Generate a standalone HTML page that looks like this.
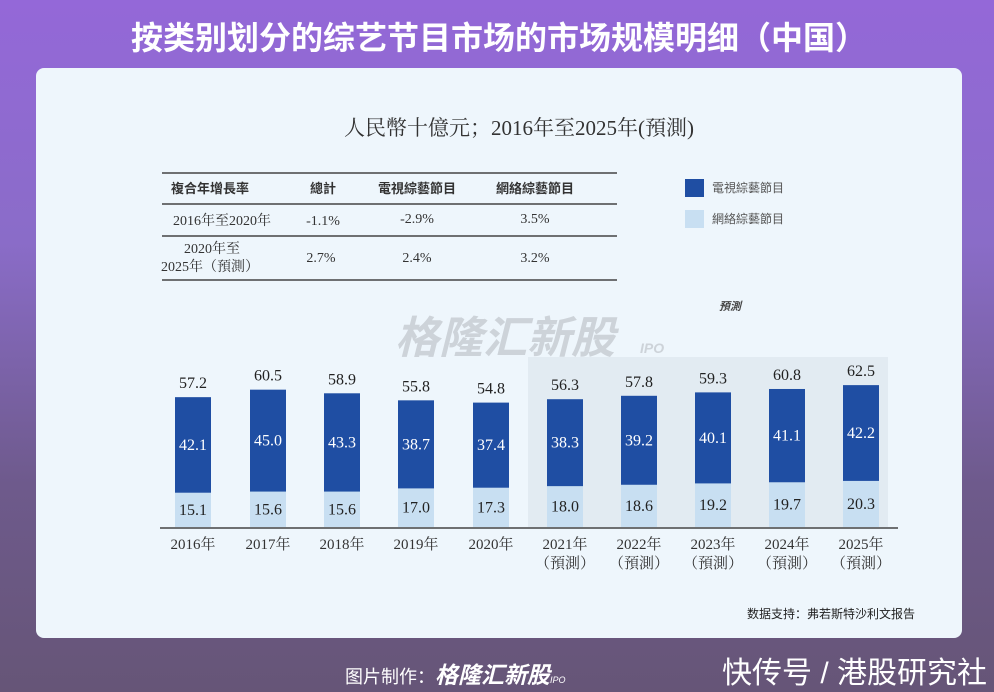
<!DOCTYPE html>
<html><head><meta charset="utf-8"><style>
body{margin:0;width:994px;height:692px;overflow:hidden;font-family:"Liberation Sans","Noto Sans CJK SC",sans-serif;}
.bg{position:absolute;left:0;top:0;width:994px;height:692px;background:linear-gradient(180deg,#9468d8 0%,#8a6cc8 35%,#6e5a8c 70%,#665577 100%);}
</style></head><body>
<div class="bg"></div>
<svg width="994" height="692" style="position:absolute;left:0;top:0" font-family="Liberation Serif, Noto Serif CJK SC, serif">
<text x="499" y="49" text-anchor="middle" font-family="Liberation Sans, Noto Sans CJK SC, sans-serif" font-weight="bold" font-size="32" fill="#fff">按类别划分的综艺节目市场的市场规模明细（中国）</text>
<rect x="36" y="68" width="926" height="570" rx="8" fill="#eef6fc"/>
<text x="519" y="135" text-anchor="middle" font-size="21" fill="#333">人民幣十億元；2016年至2025年(預測)</text>
<g stroke="#444" stroke-width="1.5"><line x1="162" y1="173" x2="617" y2="173"/><line x1="162" y1="204" x2="617" y2="204"/><line x1="162" y1="236" x2="617" y2="236"/><line x1="162" y1="280" x2="617" y2="280"/></g>
<g font-size="13" fill="#333" text-anchor="middle" font-family="Liberation Sans, Noto Sans CJK SC, sans-serif" font-weight="bold">
<text x="210" y="193">複合年增長率</text><text x="323" y="193">總計</text><text x="417" y="193">電視綜藝節目</text><text x="535" y="193">網絡綜藝節目</text></g>
<g font-size="14" fill="#333" text-anchor="middle">
<text x="222" y="225">2016年至2020年</text><text x="323" y="225">-1.1%</text><text x="417" y="223">-2.9%</text><text x="535" y="223">3.5%</text>
<text x="212" y="253">2020年至</text><text x="210" y="271">2025年（預測）</text><text x="321" y="262">2.7%</text><text x="417" y="262">2.4%</text><text x="535" y="262">3.2%</text></g>
<rect x="685" y="179" width="19" height="18" fill="#1f4ea3"/><rect x="685" y="210" width="19" height="18" fill="#c8dff2"/>
<g font-size="12" fill="#555" font-family="Liberation Sans, Noto Sans CJK SC, sans-serif"><text x="712" y="192">電視綜藝節目</text><text x="712" y="223">網絡綜藝節目</text></g>
<text x="730" y="310" text-anchor="middle" font-size="11" font-style="italic" font-weight="bold" fill="#444" font-family="Liberation Sans, Noto Sans CJK SC, sans-serif">預測</text>
<text x="505" y="353" text-anchor="middle" font-size="44" font-style="italic" font-weight="bold" fill="#cdd3d9" font-family="Liberation Sans, Noto Sans CJK SC, sans-serif">格隆汇新股</text>
<text x="640" y="353" font-size="14" font-style="italic" font-weight="bold" fill="#cdd3d9" font-family="Liberation Sans, sans-serif">IPO</text>
<rect x="528" y="357" width="360" height="170" fill="#e2ebf2"/>
<line x1="160" y1="528" x2="898" y2="528" stroke="#444" stroke-width="1.5"/>
<g id="bars" font-size="16" text-anchor="middle"></g>
</svg>
<div style="position:absolute;left:747px;top:605px;font-size:12px;color:#222;font-family:'Liberation Sans','Noto Sans CJK SC',sans-serif">数据支持：弗若斯特沙利文报告</div>
<div style="position:absolute;left:345px;top:656px;font-size:18px;color:#fff;font-family:'Liberation Sans','Noto Sans CJK SC',sans-serif">图片制作：<b style="font-style:italic;font-size:23px">格隆汇新股</b><span style="font-size:9px;font-style:italic">IPO</span></div>
<div style="position:absolute;left:722px;top:648px;font-size:30px;color:#fff;font-family:'Liberation Sans','Noto Sans CJK SC',sans-serif">快传号 / 港股研究社</div>
<script>
var d=[[2016,42.1,15.1,57.2],[2017,45.0,15.6,60.5],[2018,43.3,15.6,58.9],[2019,38.7,17.0,55.8],[2020,37.4,17.3,54.8],[2021,38.3,18.0,56.3],[2022,39.2,18.6,57.8],[2023,40.1,19.2,59.3],[2024,41.1,19.7,60.8],[2025,42.2,20.3,62.5]];
var cx=[193,268,342,416,491,565,639,713,787,861],s=2.27,h='';
d.forEach(function(r,i){var x=cx[i]-18,yl=527-r[2]*s,yt=527-r[3]*s;
h+='<rect x="'+x+'" y="'+yl+'" width="36" height="'+(527-yl)+'" fill="#c8dff2"/>';
h+='<rect x="'+x+'" y="'+yt+'" width="36" height="'+(yl-yt)+'" fill="#1f4ea3"/>';
h+='<text x="'+cx[i]+'" y="'+(yt-9)+'" fill="#222">'+r[3].toFixed(1)+'</text>';
h+='<text x="'+cx[i]+'" y="'+((yl+yt)/2+5)+'" fill="#fff">'+r[1].toFixed(1)+'</text>';
h+='<text x="'+cx[i]+'" y="'+((yl+527)/2+5)+'" fill="#222">'+r[2].toFixed(1)+'</text>';
h+='<text x="'+cx[i]+'" y="549" fill="#333" font-size="15">'+r[0]+'年</text>';
if(i>=5)h+='<text x="'+cx[i]+'" y="568" fill="#333" font-size="15">（預測）</text>';});
document.getElementById('bars').innerHTML=h;
</script>
</body></html>
